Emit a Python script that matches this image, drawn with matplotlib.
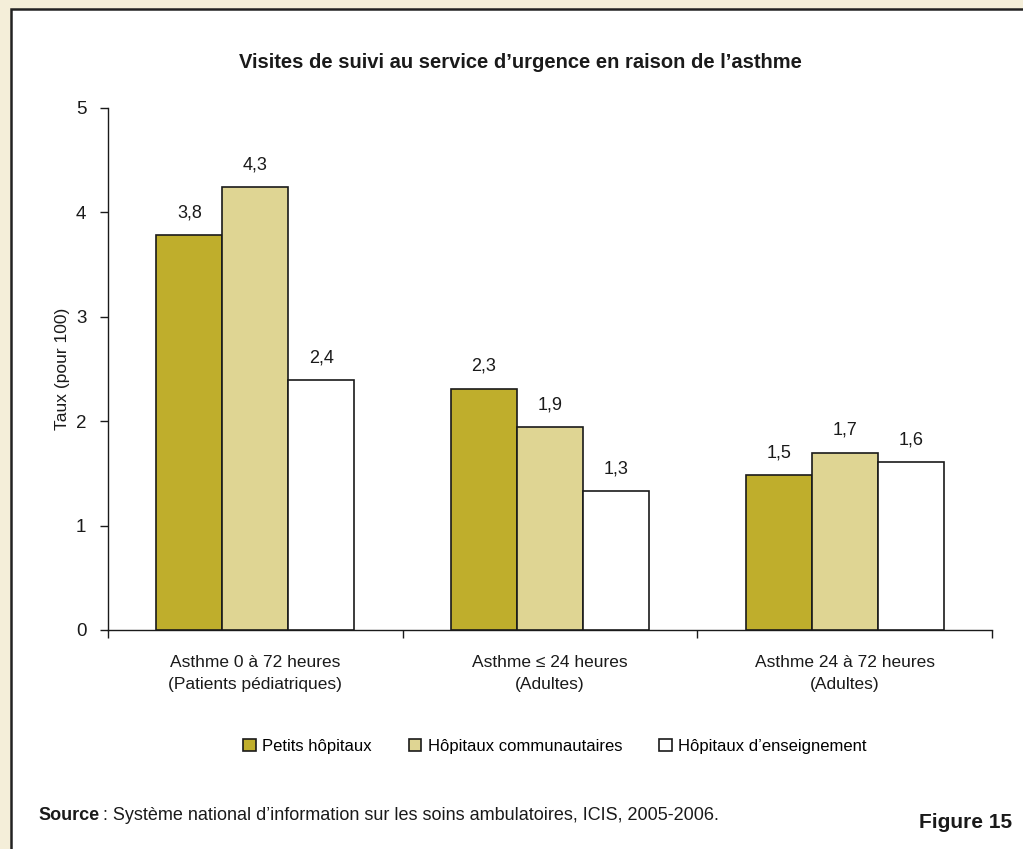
import matplotlib
matplotlib.use("Agg")
import matplotlib.pyplot as plt
from matplotlib.patches import Rectangle
import numpy as np

categories = ["Asthme 0 à 72 heures\n(Patients pédiatriques)",
              "Asthme \u2264 24 heures\n(Adultes)",
              "Asthme 24 à 72 heures\n(Adultes)"]
series = ["Petits hôpitaux", "Hôpitaux communautaires", "Hôpitaux d\u2019enseignement"]
petits = [3.78, 2.31, 1.48]
communautaires = [4.24, 1.94, 1.70]
enseignement = [2.39, 1.33, 1.61]
labels_petits = ["3,8", "2,3", "1,5"]
labels_comm = ["4,3", "1,9", "1,7"]
labels_ens = ["2,4", "1,3", "1,6"]
yticks = [0, 1, 2, 3, 4, 5]

colors = ["#BFAE2C", "#DFD593", "#FFFFFF"]
ink = "#1a1a1a"

plt.rcParams["font.family"] = ["Liberation Sans", "DejaVu Sans"]

fig = plt.figure(figsize=(10.23, 8.49), dpi=100)
fig.patch.set_facecolor("#F4EED9")
# panneau blanc encadré (derrière les axes)
fig.patches.append(Rectangle((11 / 1023, -0.05), 1.1, 1 - 9 / 849 + 0.05,
                             transform=fig.transFigure, facecolor="white",
                             edgecolor="#222222", lw=1.8, zorder=-1))

ax = fig.add_axes([108 / 1023, 1 - 630 / 849, (992 - 108) / 1023, (630 - 108) / 849])
ax.set_facecolor("none")

x = np.arange(len(categories))
w = 0.224
data = [petits, communautaires, enseignement]
labs = [labels_petits, labels_comm, labels_ens]
for i, (vals, lab, col, name) in enumerate(zip(data, labs, colors, series)):
    pos = x + (i - 1) * w
    ax.bar(pos, vals, width=w, color=col, edgecolor=ink, linewidth=1.2,
           label=name, zorder=3)
    for px, v, t in zip(pos, vals, lab):
        ax.annotate(t, (px, v), textcoords="offset points", xytext=(0, 10),
                    ha="center", va="bottom", fontsize=13, color=ink)

ax.set_xlim(-0.5, len(categories) - 0.5)
ax.set_ylim(0, 5)
ax.set_yticks(yticks)
ax.set_yticklabels([str(t) for t in yticks], fontsize=13.5, color=ink)
ax.set_xticks(x)
ax.set_xticklabels(categories, fontsize=12.5, linespacing=1.6, color=ink)
ax.set_xticks(np.arange(-0.5, len(categories)), minor=True)
ax.tick_params(axis="x", which="major", length=0, pad=18)
ax.tick_params(axis="x", which="minor", length=6, direction="out", width=1, color=ink)
ax.tick_params(axis="y", length=5.5, width=1, pad=10, color=ink)
for s in ("top", "right"):
    ax.spines[s].set_visible(False)
for s in ("left", "bottom"):
    ax.spines[s].set_linewidth(1.0)
    ax.spines[s].set_color(ink)

ax.set_ylabel("Taux (pour 100)", fontsize=12.5, labelpad=4, color=ink)

fig.text(520 / 1023, 1 - 62 / 849, "Visites de suivi au service d\u2019urgence en raison de l\u2019asthme",
         ha="center", va="center", fontsize=14.5, fontweight="bold", color=ink)

leg = fig.legend(loc="center", bbox_to_anchor=(555 / 1023, 1 - 746 / 849), ncol=3,
                 frameon=False, fontsize=12, handlelength=0.75, handleheight=0.75,
                 handletextpad=0.4, columnspacing=2.2)

fig.text(38 / 1023, 1 - 815 / 849, "Source", ha="left", va="center",
         fontsize=13, fontweight="bold", color=ink)
fig.text(98 / 1023, 1 - 815 / 849,
         " : Système national d\u2019information sur les soins ambulatoires, ICIS, 2005-2006.",
         ha="left", va="center", fontsize=13, color=ink)
fig.text(1012 / 1023, 1 - 822 / 849, "Figure 15", ha="right", va="center",
         fontsize=15, fontweight="bold", color=ink)

fig.savefig("out.png", dpi=100, facecolor=fig.get_facecolor())
